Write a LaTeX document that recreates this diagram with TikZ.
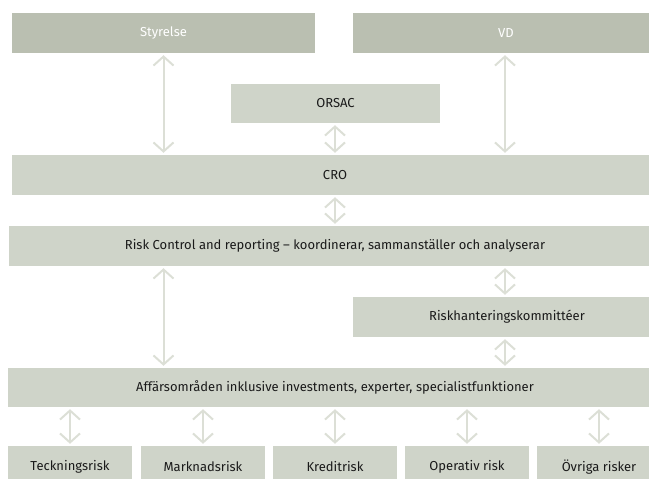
\documentclass[tikz,border=0pt]{standalone}
\usepackage{fontspec}
\setmainfont{Fira Sans}
\usetikzlibrary{arrows.meta,calc}
\definecolor{boxdark}{HTML}{BABFB1}
\definecolor{boxlight}{HTML}{CFD4C9}
\definecolor{arrowc}{HTML}{DCDFD6}
\definecolor{txt}{HTML}{1A1A1A}
\tikzset{
  box/.style={fill=boxlight, draw=none, inner sep=0pt, text=txt, font=\fontsize{13}{15}\selectfont},
  darkbox/.style={box, fill=boxdark, text=white},
  arr/.style={draw=arrowc, line width=2pt, {Straight Barb[length=9pt,width=20pt,line width=2pt]}-{Straight Barb[length=9pt,width=20pt,line width=2pt]}, shorten >=2pt, shorten <=2pt}
}
\begin{document}
\begin{tikzpicture}[x=1pt,y=-1pt]
\useasboundingbox (0,0) rectangle (649,479);
\clip (0,0) rectangle (649,479);
\node[darkbox, minimum width=303pt, minimum height=40pt] (sty) at (163.5,33) {Styrelse};
\node[darkbox, minimum width=306pt, minimum height=40pt] (vd) at (506,33) {VD};
\node[box, minimum width=209pt, minimum height=39pt] (orsac) at (335.5,103.5) {ORSAC};
\node[box, minimum width=646pt, minimum height=40pt] (cro) at (335,175) {CRO};
\node[box, minimum width=652pt, minimum height=40pt] (risk) at (335,246) {Risk Control and reporting – koordinerar, sammanställer och analyserar};
\node[box, minimum width=308pt, minimum height=40pt] (riskh) at (507,317) {Riskhanteringskommittéer};
\node[box, minimum width=654pt, minimum height=39pt] (aff) at (335,387.5) {Affärsområden inklusive investments, experter, specialistfunktioner};
\node[box, minimum width=124pt, minimum height=42pt] (b1) at (70,467) {Teckningsrisk};
\node[box, minimum width=124pt, minimum height=42pt] (b2) at (203,467) {Marknadsrisk};
\node[box, minimum width=124pt, minimum height=42pt] (b3) at (335,467) {Kreditrisk};
\node[box, minimum width=124pt, minimum height=42pt] (b4) at (467,467) {Operativ risk};
\node[box, minimum width=124pt, minimum height=42pt] (b5) at (599,467) {Övriga risker};
\draw[arr] (sty.south) -- (sty.south |- cro.north);
\draw[arr] ([xshift=-1pt]vd.south) -- ([xshift=-1pt]vd.south |- cro.north);
\draw[arr] (orsac.south -| cro.north) -- (cro.north);
\draw[arr] (cro.south) -- (risk.north);
\draw[arr] (risk.south -| sty.south) -- (aff.north -| sty.south);
\draw[arr] ([xshift=-2pt]riskh.north |- risk.south) -- ([xshift=-2pt]riskh.north);
\draw[arr] ([xshift=-2pt]riskh.south) -- ([xshift=-2pt]riskh.south |- aff.north);
\foreach \b in {b1,b2,b3,b4,b5}{
  \draw[arr] (aff.south -| \b.north) -- (\b.north);
}
\end{tikzpicture}
\end{document}
